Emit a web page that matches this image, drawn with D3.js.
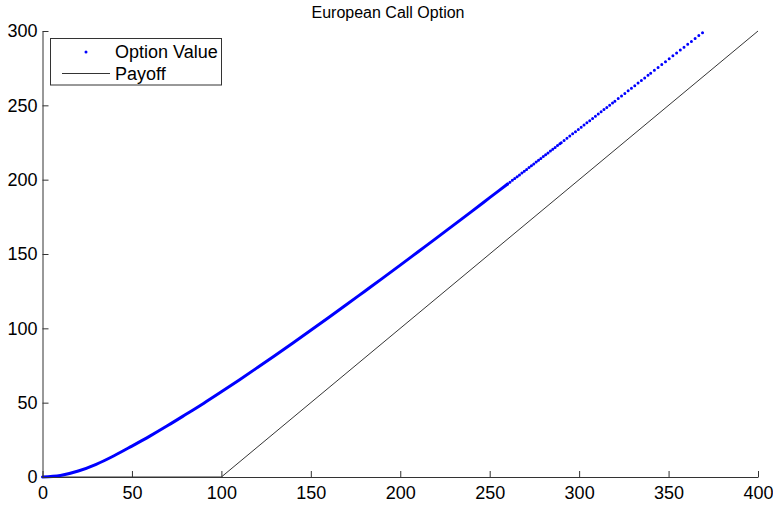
<!DOCTYPE html>
<html>
<head>
<meta charset="utf-8">
<script src="https://cdn.jsdelivr.net/npm/d3@7"></script>
<style>
  html, body { margin: 0; padding: 0; background: #fff; }
  svg { display: block; font-family: "Liberation Sans", Arial, Helvetica, sans-serif; }
</style>
</head>
<body>
<svg id="chart" width="773" height="508"></svg>
<script>
// ---- data ----
const chartTitle = "European Call Option";
const spot = [0, 10, 20, 30, 40, 50, 60, 70, 80, 90, 100, 110, 120, 130, 140, 150, 160, 170, 180, 190,
  200, 210, 220, 230, 240, 250, 260, 270, 280, 290, 300, 310, 320, 330, 340, 350, 360, 370];
const optionValue = [0, 1.0, 4.0, 8.5, 14.3, 20.8, 27.5, 34.6, 42.0, 49.5, 57.3, 65.3, 73.5, 81.8, 90.2,
  98.7, 107.3, 116.0, 124.8, 133.6, 142.5, 151.5, 160.5, 169.6, 178.7, 187.9, 197.1, 206.3, 215.6,
  224.9, 234.2, 243.5, 252.8, 262.2, 271.6, 281.0, 290.4, 299.8];
const payoffSpot = [0, 100, 400];
const payoffValue = [0, 0, 300];
const xTicks = [0, 50, 100, 150, 200, 250, 300, 350, 400];
const yTicks = [0, 50, 100, 150, 200, 250, 300];
const legendLabels = ["Option Value", "Payoff"];

(function () {
// ---- layout ----
const svg = d3.select("#chart");
const mLeft = 42.5, mRight = 758, mTop = 31, mBottom = 477;
const x = d3.scaleLinear().domain([0, 400]).range([mLeft, mRight]);
const y = d3.scaleLinear().domain([0, 300]).range([mBottom, mTop]);
const axisColor = "#333";
const fontSize = 18;

// title
svg.append("text")
  .attr("x", 388)
  .attr("y", 18)
  .attr("text-anchor", "middle")
  .attr("font-size", 16)
  .attr("fill", "#000")
  .text(chartTitle);

const pts = spot.map((s, i) => ({ s, v: optionValue[i] }));
const pay = payoffSpot.map((s, i) => ({ s, v: payoffValue[i] }));
const line = d3.line().x(d => x(d.s)).y(d => y(d.v));

// payoff line
svg.append("path")
  .datum(pay)
  .attr("d", line)
  .attr("fill", "none")
  .attr("stroke", "#000")
  .attr("stroke-width", 0.8);

// option value: dense markers (solid-looking) in the lower part, separated dots above
const smooth = d3.line().x(d => x(d.s)).y(d => y(d.v)).curve(d3.curveMonotoneX);
const segs = [
  { from: 0, to: 260, dash: null },
  { from: 260, to: 290, dash: "0 3.0" },
  { from: 290, to: 320, dash: "0 3.6" },
  { from: 320, to: 340, dash: "0 4.2" },
  { from: 340, to: 370, dash: "0 4.7" }
];
segs.forEach(sg => {
  const d = pts.filter(p => p.s >= sg.from && p.s <= sg.to);
  const p = svg.append("path")
    .datum(d)
    .attr("d", smooth)
    .attr("fill", "none")
    .attr("stroke", "#0000ff")
    .attr("stroke-width", 3)
    .attr("stroke-linecap", "round");
  if (sg.dash) p.attr("stroke-dasharray", sg.dash);
});

// axes (MATLAB style: ticks pointing inward)
const xAxis = d3.axisBottom(x).tickValues(xTicks).tickFormat(d3.format("d"))
  .tickSizeInner(-6).tickSizeOuter(0).tickPadding(9);
const gx = svg.append("g").attr("transform", `translate(0,${mBottom})`).call(xAxis);
gx.selectAll("text").attr("font-size", fontSize).attr("fill", "#000")
  .attr("font-family", "Liberation Sans, Arial, sans-serif");
gx.selectAll("line").attr("stroke", axisColor);
gx.select(".domain").attr("stroke", axisColor);

const yAxis = d3.axisLeft(y).tickValues(yTicks).tickFormat(d3.format("d"))
  .tickSizeInner(-6).tickSizeOuter(0).tickPadding(5);
const gy = svg.append("g").attr("transform", `translate(${mLeft},0)`).call(yAxis);
gy.selectAll("text").attr("font-size", fontSize).attr("fill", "#000")
  .attr("font-family", "Liberation Sans, Arial, sans-serif");
gy.selectAll("line").attr("stroke", axisColor);
gy.select(".domain").attr("stroke", axisColor);

// legend
const lg = svg.append("g");
lg.append("rect")
  .attr("x", 50.5).attr("y", 38.5).attr("width", 171).attr("height", 46.5)
  .attr("fill", "#fff").attr("stroke", axisColor).attr("stroke-width", 1);
lg.append("circle").attr("cx", 86).attr("cy", 52).attr("r", 1.5).attr("fill", "#0000ff");
lg.append("line").attr("x1", 62).attr("x2", 110).attr("y1", 73.5).attr("y2", 73.5)
  .attr("stroke", "#000").attr("stroke-width", 0.8);
legendLabels.forEach((t, i) => {
  lg.append("text")
    .attr("x", 115).attr("y", 52 + i * 21.5)
    .attr("dy", "0.35em")
    .attr("font-size", fontSize)
    .attr("fill", "#000")
    .text(t);
});
})();
</script>
</body>
</html>
